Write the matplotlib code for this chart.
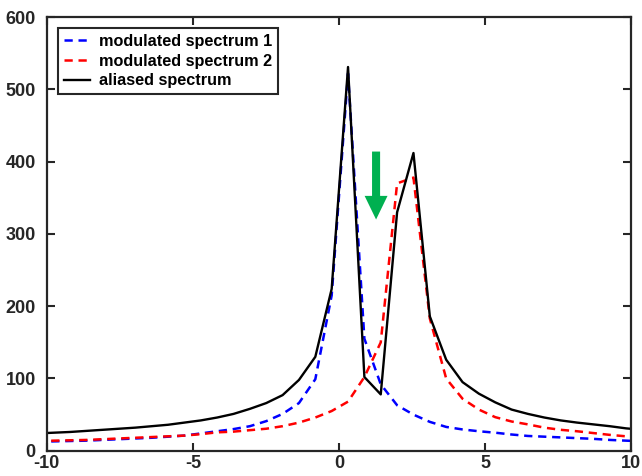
#Aliased spectrum: two modulated spectra and their aliased sum
import numpy as np
import matplotlib.pyplot as plt

plt.rcParams['font.family'] = ['Liberation Sans', 'DejaVu Sans']
plt.rcParams['font.weight'] = 'bold'
plt.rcParams['axes.unicode_minus'] = False

freq = [-10.33, -9.77, -9.21, -8.65, -8.09, -7.53, -6.97, -6.41, -5.85, -5.29,
        -4.73, -4.17, -3.61, -3.05, -2.49, -1.93, -1.37, -0.81, -0.25, 0.31,
        0.87, 1.43, 1.99, 2.55, 3.11, 3.67, 4.23, 4.79, 5.35, 5.91,
        6.47, 7.03, 7.59, 8.15, 8.71, 9.27, 9.83, 10.39]

#modulated spectrum 1
spec1 = [12, 13, 13.5, 14, 15, 16, 17, 18, 19.5, 21,
         24, 27, 30, 34, 41, 51, 66, 99, 215, 522,
         155, 92, 63, 50, 40, 33, 29.5, 27, 25, 22.5,
         20.5, 19.5, 18.5, 17.5, 16.5, 15, 14, 13]

#modulated spectrum 2
spec2 = [13.5, 14, 14.5, 15, 16, 17, 18, 19, 20, 21,
         23, 25.5, 26.5, 28.5, 30.5, 34, 39, 46, 55, 68,
         102, 150, 370, 378, 183, 100, 72, 57, 46.5, 40.5,
         36.5, 32, 29, 27, 24.5, 22, 20, 18.5]

#aliased spectrum
alias = [24, 25, 26, 27.5, 29, 30.5, 32, 34, 36, 39,
         42, 46, 51, 58, 66, 77, 98, 130, 224, 531,
         102, 78, 330, 412, 186, 126, 95, 79, 67, 57,
         51, 46, 42, 39, 36.5, 34, 31, 29]

#arrow marking the alias dip
arrow_x = 1.27
arrow_top = 414
arrow_tip = 320

dark = '#262626'

fig = plt.figure(figsize=(6.42, 4.76), dpi=100)
ax = fig.add_axes([0.073, 0.053, 0.910, 0.911])

ax.plot(freq, spec1, color='blue', lw=1.8, ls=(0, (3.3, 2.3)), label='modulated spectrum 1')
ax.plot(freq, spec2, color='red', lw=1.8, ls=(0, (3.3, 2.3)), label='modulated spectrum 2')
ax.plot(freq, alias, color='black', lw=1.7, label='aliased spectrum')

ax.annotate('', xy=(arrow_x, arrow_tip), xytext=(arrow_x, arrow_top),
            arrowprops=dict(arrowstyle='simple,head_length=17,head_width=16.5,tail_width=5.8',
                            mutation_scale=1, color='#00b050', shrinkA=0, shrinkB=0, lw=0))

ax.set_xlim(-10, 10)
ax.set_ylim(0, 600)
ax.set_xticks([-10, -5, 0, 5, 10])
ax.set_yticks(np.arange(0, 601, 100))
ax.tick_params(direction='in', length=6, width=1.5, top=True, right=True,
               labelsize=13, colors=dark)
ax.tick_params(axis='y', pad=8)
ax.tick_params(axis='x', pad=3)
for lab in ax.get_xticklabels() + ax.get_yticklabels():
    lab.set_fontweight('bold')
for s in ax.spines.values():
    s.set_linewidth(1.6)
    s.set_color(dark)

leg = ax.legend(loc='upper left', bbox_to_anchor=(0.019, 0.975), borderaxespad=0,
                prop={'size': 11.7, 'weight': 'bold'}, handlelength=1.6, handletextpad=0.55,
                labelspacing=0.3, borderpad=0.35, fancybox=False, framealpha=1)
leg.get_frame().set_edgecolor(dark)
leg.get_frame().set_linewidth(1.5)

plt.savefig('out.png', dpi=100)
